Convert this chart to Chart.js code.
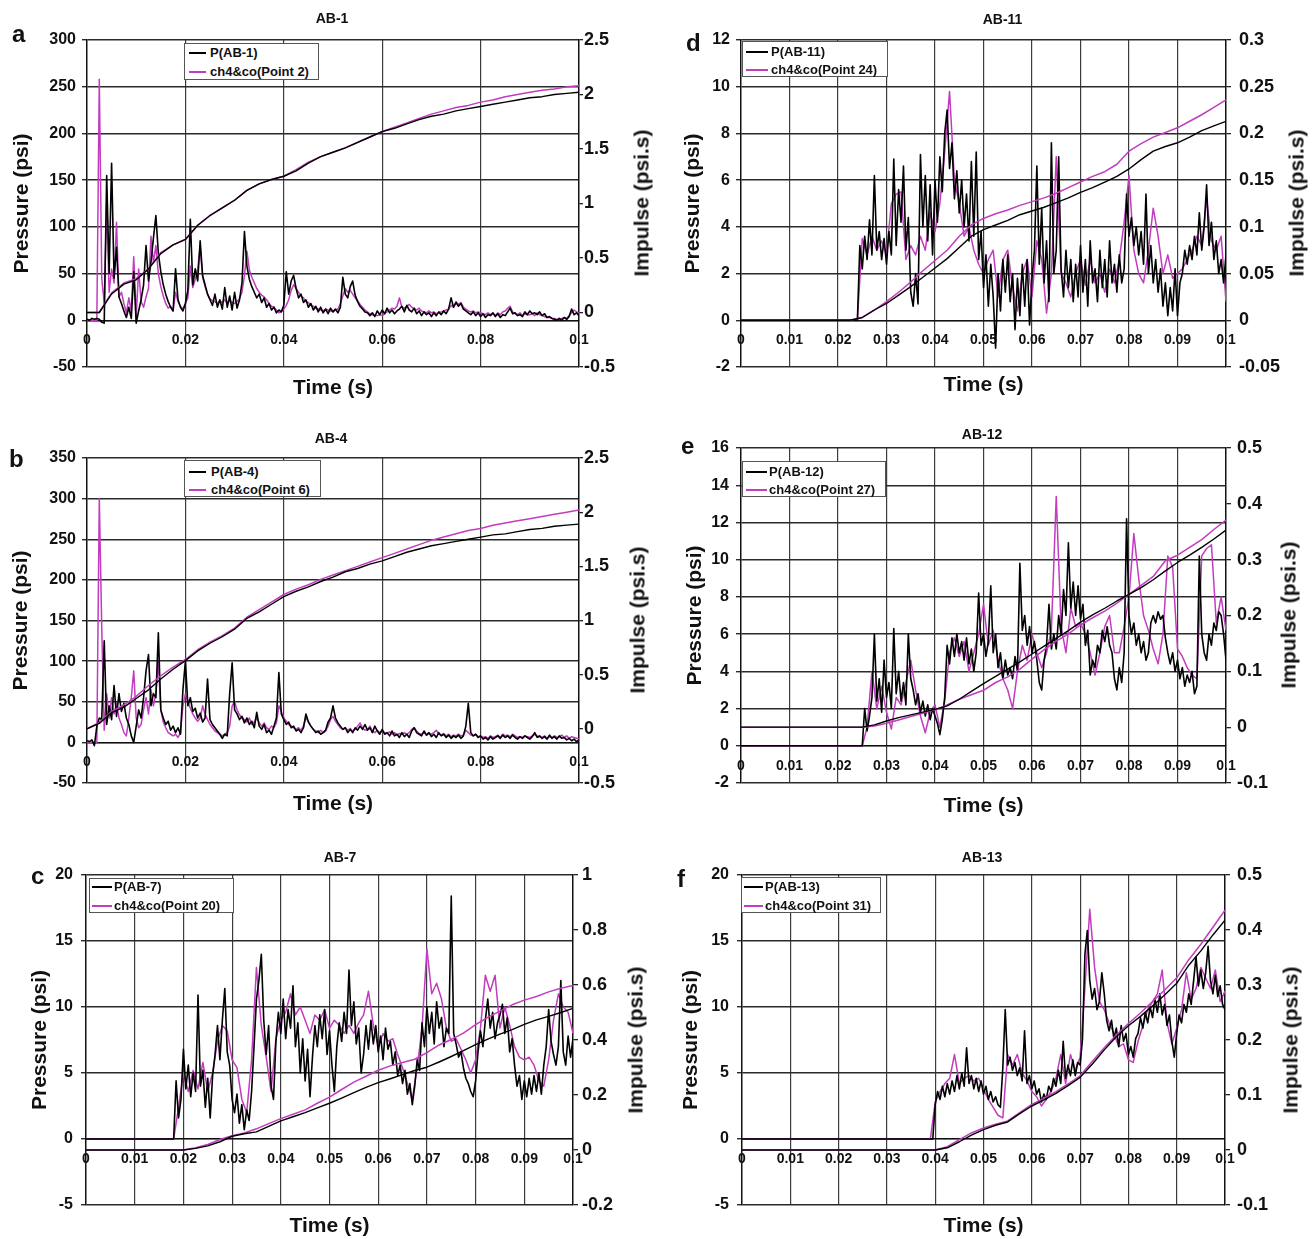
<!DOCTYPE html>
<html>
<head>
<meta charset="utf-8">
<script src="https://cdn.jsdelivr.net/npm/chart.js@4.4.1/dist/chart.umd.min.js"></script>
<style>
  html,body{margin:0;padding:0;background:#fff;}
  body{position:relative;width:1314px;height:1239px;overflow:hidden;font-family:'Liberation Sans',Arial,sans-serif;}
  .lbl{position:absolute;font-weight:bold;color:#111;white-space:nowrap;}
</style>
</head>
<body>
<script>
// ===================== DATA =====================
// x-axis tick values / labels
const X_TICKS_2 = [0, 0.02, 0.04, 0.06, 0.08, 0.1];
const X_LABELS_2 = ['0', '0.02', '0.04', '0.06', '0.08', '0.1'];
const X_TICKS_1 = [0, 0.01, 0.02, 0.03, 0.04, 0.05, 0.06, 0.07, 0.08, 0.09, 0.1];
const X_LABELS_1 = ['0', '0.01', '0.02', '0.03', '0.04', '0.05', '0.06', '0.07', '0.08', '0.09', '0.1'];

// ---------- (a) AB-1 ----------
const A_TITLE = 'AB-1';
const A_NAMES = ['P(AB-1)', 'ch4&co(Point 2)'];
const A_Y_TICKS = [-50, 0, 50, 100, 150, 200, 250, 300];
const A_Y_LABELS = ['-50', '0', '50', '100', '150', '200', '250', '300'];
const A_R_TICKS = [-0.5, 0, 0.5, 1, 1.5, 2, 2.5];
const A_R_LABELS = ['-0.5', '0', '0.5', '1', '1.5', '2', '2.5'];
const A_P_START = 0, A_P_STEP = 0.0005;
const A_P_MEAS = [1,0,2,1,2,1,-2,-3,155,50,
168,45,78,25,18,10,3,14,2,52,
-3,10,22,38,80,42,62,88,112,72,
52,38,28,20,14,10,55,22,14,10,
18,32,108,38,55,42,85,48,38,28,
22,16,28,14,22,12,35,14,26,11,
30,13,22,40,95,58,44,36,30,24,
28,19,24,14,18,11,14,8,11,9,
16,52,28,42,48,34,24,28,19,22,
14,18,11,15,9,14,8,12,7,13,
9,12,8,14,46,28,24,36,42,27,
20,15,12,9,8,5,8,4,10,6,
11,7,13,8,11,7,10,12,15,9,
16,11,9,13,7,10,5,9,6,8,
4,8,5,9,6,10,7,12,24,14,
19,15,18,12,10,8,6,9,5,8,
4,7,3,6,5,8,4,7,3,6,
5,9,13,7,8,5,6,4,9,6,
10,7,8,6,9,5,7,3,4,2,
1,0,2,0,3,1,4,12,6,8,
5];
const A_S_START = 0, A_S_STEP = 0.0005;
const A_P_SIM = [0,0,0,0,0,258,45,18,125,30,
55,40,105,25,30,18,8,24,10,68,
4,55,20,14,25,34,90,62,80,50,
36,26,18,13,15,10,30,20,15,12,
18,24,58,35,44,55,78,46,36,28,
23,21,20,18,21,19,22,18,21,19,
18,20,23,30,48,74,54,46,40,34,
30,27,25,22,18,15,14,11,8,9,
12,16,22,32,38,34,30,26,24,20,
19,16,15,13,12,11,10,12,11,10,
9,11,12,18,26,34,30,32,28,24,
21,17,14,11,9,7,6,5,5,6,
5,7,9,11,13,12,15,24,14,13,
15,17,14,12,11,13,10,9,8,10,
8,9,7,8,9,10,11,12,16,14,
20,17,19,14,12,10,9,10,8,9,
8,7,6,8,6,7,5,8,6,9,
10,13,15,9,7,6,8,5,7,6,
6,7,5,8,6,5,4,3,3,2,
2,1,1,2,3,2,5,8,11,9,
8];
const A_I_START = 0, A_I_STEP = 0.0025;
const A_I_MEAS = [0,0,0.17,0.26,0.30,0.40,0.54,0.62,0.67,0.80,0.89,0.96,1.03,1.12,1.18,1.22,1.25,1.30,1.37,1.43,1.47,1.51,1.56,1.61,1.66,1.69,1.73,1.77,1.80,1.82,1.85,1.87,1.89,1.91,1.93,1.95,1.97,1.98,2.00,2.01,2.02];
const A_I_SIM = [0,0,0.18,0.27,0.31,0.40,0.55,0.62,0.67,0.80,0.89,0.96,1.03,1.12,1.18,1.22,1.25,1.31,1.38,1.43,1.47,1.51,1.56,1.61,1.66,1.70,1.74,1.78,1.82,1.85,1.88,1.90,1.93,1.95,1.98,2.00,2.02,2.04,2.05,2.07,2.08];

// ---------- (b) AB-4 ----------
const B_TITLE = 'AB-4';
const B_NAMES = ['P(AB-4)', 'ch4&co(Point 6)'];
const B_Y_TICKS = [-50, 0, 50, 100, 150, 200, 250, 300, 350];
const B_Y_LABELS = ['-50', '0', '50', '100', '150', '200', '250', '300', '350'];
const B_R_TICKS = [-0.5, 0, 0.5, 1, 1.5, 2, 2.5];
const B_R_LABELS = ['-0.5', '0', '0.5', '1', '1.5', '2', '2.5'];
const B_P_START = 0, B_P_STEP = 0.0005;
const B_P_MEAS = [2,1,3,-4,20,30,28,125,22,45,
28,70,32,60,38,48,30,22,8,0,
20,40,30,55,88,108,45,60,55,135,
40,30,22,26,15,20,12,18,10,65,
100,45,55,38,42,30,36,25,30,78,
28,22,18,14,10,5,10,8,60,98,
40,35,28,32,24,30,22,26,18,37,
20,16,22,12,15,10,20,30,86,35,
28,22,25,18,20,14,16,12,18,35,
25,20,16,12,14,10,12,15,25,30,
45,30,24,20,16,18,12,16,12,18,
15,20,16,22,15,18,12,20,14,10,
16,10,12,8,14,8,10,6,12,7,
10,6,14,18,12,10,8,14,9,12,
7,10,6,12,8,10,6,9,5,8,
6,9,5,8,20,48,12,8,10,6,
8,4,6,3,7,4,6,8,5,9,
6,8,5,9,6,4,7,5,8,6,
4,7,12,6,8,5,7,4,9,5,
7,4,8,5,6,3,5,2,4,1,
3];
const B_S_START = 0, B_S_STEP = 0.0005;
const B_P_SIM = [0,0,0,0,0,300,140,15,60,30,
55,35,48,30,22,12,8,30,55,88,
30,18,22,40,55,35,65,45,60,100,
40,25,18,12,10,8,10,6,12,45,
60,50,42,35,30,26,30,45,35,28,
22,18,14,12,10,8,10,12,20,45,
50,40,34,30,28,25,30,22,25,30,
24,20,24,18,16,20,18,24,45,38,
30,26,22,20,18,16,18,15,20,30,
26,20,16,14,12,15,12,14,20,28,
32,26,22,18,16,18,15,17,14,16,
20,24,18,15,16,20,14,12,15,12,
14,12,11,13,10,12,9,11,10,12,
10,12,16,18,14,11,10,12,9,11,
10,12,15,10,9,11,8,10,7,9,
8,10,8,9,15,12,9,8,10,7,
8,6,7,5,8,6,7,9,6,10,
8,9,7,10,8,6,7,6,8,7,
6,8,10,8,7,6,8,5,7,6,
8,6,7,9,6,8,5,7,6,5,
4];
const B_I_START = 0, B_I_STEP = 0.0025;
const B_I_MEAS = [0,0.05,0.15,0.20,0.28,0.36,0.46,0.55,0.63,0.72,0.79,0.85,0.92,1.02,1.08,1.15,1.22,1.27,1.31,1.36,1.40,1.45,1.48,1.52,1.55,1.59,1.63,1.66,1.69,1.71,1.73,1.75,1.77,1.79,1.80,1.82,1.84,1.85,1.87,1.88,1.89];
const B_I_SIM = [0,0.06,0.16,0.22,0.30,0.40,0.49,0.57,0.64,0.73,0.80,0.86,0.93,1.03,1.10,1.17,1.24,1.29,1.33,1.38,1.42,1.46,1.50,1.54,1.58,1.62,1.66,1.70,1.74,1.77,1.80,1.83,1.85,1.88,1.90,1.92,1.94,1.96,1.98,2.00,2.02];

// ---------- (c) AB-7 ----------
const C_TITLE = 'AB-7';
const C_NAMES = ['P(AB-7)', 'ch4&co(Point 20)'];
const C_Y_TICKS = [-5, 0, 5, 10, 15, 20];
const C_Y_LABELS = ['-5', '0', '5', '10', '15', '20'];
const C_R_TICKS = [-0.2, 0, 0.2, 0.4, 0.6, 0.8, 1];
const C_R_LABELS = ['-0.2', '0', '0.2', '0.4', '0.6', '0.8', '1'];
const C_P_START = 0.018, C_P_STEP = 0.0005;
const C_P_MEAS = [0,4.4,1.6,3.0,6.8,3.8,5.6,3.2,5.0,3.6,
10.9,4.0,5.2,2.4,4.6,1.6,4.8,6.4,8.6,6.0,
9.0,11.4,6.6,5.6,3.0,2.0,3.4,1.2,2.6,0.7,
2.2,1.4,3.6,7.0,10.6,12.0,14.0,9.0,6.4,8.6,
4.0,3.0,7.4,9.6,8.0,10.6,7.6,9.8,8.4,11.6,
7.0,8.8,5.0,7.6,4.4,6.8,3.2,6.2,8.6,7.0,
9.4,7.6,9.8,6.4,8.2,5.6,3.6,7.0,8.8,7.4,
9.6,8.0,12.8,8.6,10.4,7.2,8.4,5.0,6.4,8.6,
6.8,9.0,7.2,8.6,6.6,7.8,6.0,8.4,6.8,7.4,
5.6,6.6,4.8,5.6,4.2,5.2,3.4,4.2,2.6,4.0,
6.0,5.2,8.8,7.0,10.0,8.0,9.6,7.2,10.4,8.4,
9.2,7.0,8.4,8.0,18.4,8.0,7.2,6.2,6.6,5.4,
4.6,4.2,3.6,3.2,4.4,6.6,8.2,7.0,9.0,10.6,
8.4,9.6,7.6,8.8,9.4,10.2,8.0,9.2,6.6,7.6,
5.6,4.0,4.8,3.0,4.4,3.2,4.6,3.4,4.8,3.6,
5.0,3.4,5.6,7.0,9.8,7.4,6.4,5.6,7.0,12.0,
6.6,5.6,7.8,6.2,7.6];
const C_S_START = 0.018, C_S_STEP = 0.001;
const C_P_SIM = [0,2.4,5.0,3.6,5.2,3.8,5.8,3.6,5.0,7.4,
8.6,8.2,6.0,5.4,3.0,2.0,6.0,13.0,8.6,6.2,
3.6,7.6,9.0,9.6,11.0,9.4,10.0,9.0,8.0,9.4,
9.0,9.8,8.4,9.0,8.6,8.0,8.6,8.0,8.8,9.4,
11.2,8.6,7.0,8.0,7.4,7.6,6.4,5.4,4.2,3.0,
5.4,8.4,14.4,11.0,11.8,10.6,8.4,7.4,7.6,6.8,
6.0,5.0,6.0,8.4,12.4,11.2,12.4,8.4,10.0,8.6,
7.0,6.2,6.0,6.2,5.6,4.4,4.0,6.0,9.0,11.0,
10.0,9.6,8.0];
const C_I_START = 0.02, C_I_STEP = 0.0025;
const C_I_MEAS = [0,0.006,0.015,0.030,0.050,0.059,0.066,0.086,0.106,0.121,0.136,0.153,0.170,0.189,0.209,0.228,0.245,0.259,0.274,0.289,0.301,0.320,0.340,0.361,0.383,0.403,0.421,0.438,0.457,0.473,0.486,0.500,0.515];
const C_I_SIM = [0,0.008,0.020,0.038,0.052,0.062,0.077,0.096,0.114,0.130,0.146,0.170,0.192,0.220,0.247,0.268,0.290,0.306,0.318,0.330,0.354,0.382,0.402,0.425,0.456,0.482,0.505,0.528,0.545,0.558,0.575,0.588,0.598];

// ---------- (d) AB-11 ----------
const D_TITLE = 'AB-11';
const D_NAMES = ['P(AB-11)', 'ch4&co(Point 24)'];
const D_Y_TICKS = [-2, 0, 2, 4, 6, 8, 10, 12];
const D_Y_LABELS = ['-2', '0', '2', '4', '6', '8', '10', '12'];
const D_R_TICKS = [-0.05, 0, 0.05, 0.1, 0.15, 0.2, 0.25, 0.3];
const D_R_LABELS = ['-0.05', '0', '0.05', '0.1', '0.15', '0.2', '0.25', '0.3'];
const D_P_START = 0.024, D_P_STEP = 0.0005;
const D_P_MEAS = [0.0,3.2,2.2,3.6,2.6,4.3,2.8,6.2,3.0,3.8,
2.6,3.5,2.4,3.8,2.8,6.9,3.2,5.6,4.2,6.6,
3.0,4.4,1.2,0.6,2.0,0.7,7.1,4.0,6.2,3.4,
5.8,2.8,6.0,4.2,7.0,5.5,8.0,9.0,6.5,7.6,
5.2,6.4,4.6,6.0,4.0,5.4,3.4,6.8,3.6,7.2,
2.6,3.8,1.4,2.8,0.6,2.4,1.0,-1.2,2.0,0.4,
2.6,1.2,2.8,0.8,2.0,-0.4,1.8,0.2,2.4,0.6,
2.6,-0.2,1.8,3.0,6.6,2.4,4.8,1.6,3.4,0.8,
7.6,2.0,3.0,7.0,2.2,1.0,3.0,1.4,2.6,0.8,
2.4,1.0,3.2,1.2,2.6,0.6,3.4,1.6,2.2,0.8,
3.0,1.4,2.6,1.0,3.4,1.6,2.4,1.2,2.8,1.6,
2.2,5.4,3.6,4.4,3.2,4.0,2.8,3.8,2.4,5.4,
2.0,3.2,1.6,2.6,1.2,2.2,0.6,1.6,0.2,1.4,
0.4,2.2,0.2,1.6,2.0,3.0,2.4,3.2,2.6,3.6,
2.8,4.6,3.0,4.0,5.8,3.2,4.2,2.6,3.4,2.0,
2.6,1.6,2.8];
const D_S_START = 0.024, D_S_STEP = 0.001;
const D_P_SIM = [0,3.5,2.8,3.6,3.0,3.4,2.8,5.0,5.4,5.5,
2.6,3.2,2.8,3.6,3.0,4.6,3.8,5.0,7.2,9.8,
6.0,5.0,3.6,4.0,3.0,2.4,2.0,2.6,3.0,1.0,
2.6,3.0,1.4,0.4,2.0,2.6,1.0,3.4,2.6,0.3,
2.0,7.0,2.0,1.6,1.0,2.0,2.6,1.5,2.6,1.6,
2.0,1.2,2.2,1.6,2.6,4.2,6.2,3.0,2.0,1.6,
3.0,4.8,3.6,2.0,2.8,1.8,2.0,2.2,2.6,3.0,
3.6,3.2,5.2,3.4,3.0,3.6,0.8];
const D_I_START = 0.02, D_I_STEP = 0.0025;
const D_I_MEAS = [0,0,0.003,0.011,0.018,0.027,0.036,0.046,0.056,0.066,0.078,0.090,0.097,0.102,0.107,0.113,0.117,0.121,0.126,0.131,0.137,0.142,0.148,0.154,0.162,0.172,0.181,0.186,0.190,0.196,0.203,0.208,0.213];
const D_I_SIM = [0,0,0.003,0.011,0.020,0.030,0.041,0.053,0.064,0.075,0.090,0.102,0.109,0.114,0.118,0.123,0.127,0.131,0.136,0.142,0.148,0.154,0.159,0.167,0.181,0.189,0.196,0.201,0.206,0.213,0.220,0.228,0.236];

// ---------- (e) AB-12 ----------
const E_TITLE = 'AB-12';
const E_NAMES = ['P(AB-12)', 'ch4&co(Point 27)'];
const E_Y_TICKS = [-2, 0, 2, 4, 6, 8, 10, 12, 14, 16];
const E_Y_LABELS = ['-2', '0', '2', '4', '6', '8', '10', '12', '14', '16'];
const E_R_TICKS = [-0.1, 0, 0.1, 0.2, 0.3, 0.4, 0.5];
const E_R_LABELS = ['-0.1', '0', '0.1', '0.2', '0.3', '0.4', '0.5'];
const E_P_START = 0.025, E_P_STEP = 0.0005;
const E_P_MEAS = [0.0,2.0,0.8,1.6,2.6,6.0,2.4,3.6,1.8,4.6,
2.6,3.4,2.0,6.3,2.8,4.0,2.4,3.4,2.2,6.0,
3.6,3.0,2.2,2.8,1.8,2.4,1.6,2.2,1.4,2.0,
1.6,1.2,0.6,1.4,2.6,5.4,4.4,5.8,4.8,6.0,
5.0,5.6,4.6,5.8,4.4,5.2,4.0,5.0,8.2,5.4,
6.0,4.8,5.6,8.6,5.0,6.0,4.2,5.0,3.6,4.6,
3.8,4.2,3.6,4.8,4.0,9.8,6.2,7.0,5.4,6.4,
5.0,5.6,4.6,3.4,3.0,4.6,5.4,7.6,5.2,6.0,
5.2,7.0,6.0,8.4,7.0,10.9,7.4,8.8,7.0,8.6,
6.8,7.6,5.4,6.2,3.8,4.6,4.2,5.4,5.0,6.2,
5.6,6.4,5.4,5.0,3.6,3.0,4.2,3.4,5.0,12.2,
7.0,6.0,6.6,5.4,6.0,5.0,5.6,4.6,5.0,6.6,
7.0,6.6,7.2,6.8,7.0,5.8,5.0,4.4,5.0,4.0,
4.6,3.6,4.2,3.2,3.8,3.4,4.0,2.8,3.2,10.2,
6.0,5.0,4.6,6.0,5.4,6.6,6.2,7.2,7.0,6.0,
4.6];
const E_S_START = 0.025, E_S_STEP = 0.001;
const E_P_SIM = [0,1.0,4.0,2.0,3.2,1.8,0.9,2.6,2.2,3.4,
4.6,3.0,1.6,0.7,1.8,2.2,1.0,2.4,5.0,5.8,
4.8,5.6,4.0,5.0,6.0,7.6,5.4,6.2,4.6,3.6,
3.0,2.0,4.0,5.4,4.6,6.0,5.0,4.2,5.0,6.2,
13.4,6.4,5.0,7.4,6.4,6.6,6.0,5.0,3.8,5.0,
6.4,7.0,5.0,5.0,6.4,8.0,11.4,9.0,7.0,6.2,
5.2,4.4,6.0,10.2,9.6,5.2,4.8,4.2,3.8,3.6,
10.2,10.6,10.8,6.6,8.0,6.2];
const E_I_START = 0.025, E_I_STEP = 0.0025;
const E_I_MEAS = [0,0.004,0.011,0.017,0.022,0.027,0.032,0.038,0.050,0.064,0.078,0.091,0.104,0.117,0.131,0.145,0.159,0.173,0.188,0.201,0.213,0.226,0.238,0.250,0.264,0.280,0.295,0.308,0.322,0.337,0.353];
const E_I_SIM = [0,0.002,0.007,0.013,0.019,0.025,0.031,0.040,0.050,0.058,0.066,0.080,0.090,0.104,0.122,0.139,0.154,0.167,0.183,0.196,0.208,0.222,0.238,0.254,0.270,0.298,0.308,0.322,0.336,0.354,0.371];

// ---------- (f) AB-13 ----------
const F_TITLE = 'AB-13';
const F_NAMES = ['P(AB-13)', 'ch4&co(Point 31)'];
const F_Y_TICKS = [-5, 0, 5, 10, 15, 20];
const F_Y_LABELS = ['-5', '0', '5', '10', '15', '20'];
const F_R_TICKS = [-0.1, 0, 0.1, 0.2, 0.3, 0.4, 0.5];
const F_R_LABELS = ['-0.1', '0', '0.1', '0.2', '0.3', '0.4', '0.5'];
const F_P_START = 0.0395, F_P_STEP = 0.0005;
const F_P_MEAS = [0,2.6,3.6,3.0,4.0,3.2,4.2,3.4,4.4,3.6,
4.8,3.8,5.0,4.0,6.9,4.2,4.8,3.8,4.6,3.6,
4.4,3.4,4.0,3.0,3.6,2.8,3.2,2.6,2.4,5.4,
9.8,5.6,6.2,5.2,5.8,4.8,5.4,4.4,8.2,4.2,
4.8,3.8,4.4,3.4,3.8,2.8,3.4,3.0,4.0,3.6,
4.6,4.0,5.2,4.2,7.4,4.6,5.6,4.8,6.0,4.8,
5.8,5.6,7.6,14.0,15.8,12.0,10.6,11.4,9.8,10.4,
12.6,11.0,9.0,8.2,9.0,7.6,8.4,7.0,8.6,7.4,
8.0,6.4,7.0,6.2,7.6,8.0,9.2,8.4,9.6,8.8,
10.0,9.2,10.6,9.6,11.0,9.4,10.2,8.6,9.4,7.4,
6.2,8.0,9.4,8.8,10.2,9.6,11.0,10.2,12.0,13.8,
11.6,12.8,11.4,12.6,14.6,12.0,11.0,12.4,10.8,11.6,
10.2,9.8];
const F_S_START = 0.039, F_S_STEP = 0.001;
const F_P_SIM = [0,2.8,3.6,4.2,4.6,6.4,4.2,4.6,4.8,4.4,
4.6,3.8,3.0,2.4,1.8,1.6,6.4,5.6,6.4,5.0,
4.4,3.6,3.2,2.5,3.0,3.6,4.6,6.4,4.2,6.4,
5.2,6.2,11.4,17.4,13.0,10.4,9.8,8.8,8.0,7.0,
7.2,6.0,5.8,7.4,8.6,9.8,10.4,11.0,12.8,8.8,
7.2,8.4,9.8,12.6,10.6,11.4,13.0,12.2,11.4,12.8,
10.4,11.2];
const F_I_START = 0.04, F_I_STEP = 0.0025;
const F_I_MEAS = [0,0.004,0.015,0.027,0.037,0.045,0.051,0.066,0.080,0.091,0.103,0.117,0.132,0.156,0.182,0.206,0.226,0.243,0.262,0.282,0.303,0.336,0.362,0.391,0.418];
const F_I_SIM = [0,0.006,0.019,0.031,0.040,0.047,0.053,0.068,0.083,0.094,0.106,0.120,0.135,0.161,0.186,0.209,0.230,0.249,0.270,0.291,0.313,0.346,0.374,0.405,0.436];

// ===================== STYLE / LAYOUT =====================
const FONT = "'Liberation Sans', Arial, sans-serif";
const INK = '#111';
const MAGENTA = '#c23cc0';
const AXIS_TITLE_P = 'Pressure (psi)';
const AXIS_TITLE_I = 'Impulse (psi.s)';
const AXIS_TITLE_T = 'Time (s)';

const PANELS = [
  { letter:'a', title:A_TITLE, names:A_NAMES, yMin:-50, yMax:300, yT:A_Y_TICKS, yL:A_Y_LABELS, rMin:-0.5, rMax:2.5, rT:A_R_TICKS, rL:A_R_LABELS, xT:X_TICKS_2, xL:X_LABELS_2,
    meas:[A_P_START,A_P_STEP,A_P_MEAS], sim:[A_S_START,A_S_STEP,A_P_SIM], imeas:[A_I_START,A_I_STEP,A_I_MEAS], isim:[A_I_START,A_I_STEP,A_I_SIM],
    g:{cv:[0,0,657,410], pl:7, pr:0, yW:80, rW:78, x2H:43, tPad:[12,14], yTP:13, xTP:11, yLabPad:6, rTick:4, rPad:1,
       letter:[12,22], rTitle:[641,203], leg:{box:[184,43,135,37], rows:[53,72], line:[189,206], text:210}} },
  { letter:'b', title:B_TITLE, names:B_NAMES, yMin:-50, yMax:350, yT:B_Y_TICKS, yL:B_Y_LABELS, rMin:-0.5, rMax:2.5, rT:B_R_TICKS, rL:B_R_LABELS, xT:X_TICKS_2, xL:X_LABELS_2,
    meas:[B_P_START,B_P_STEP,B_P_MEAS], sim:[B_S_START,B_S_STEP,B_P_SIM], imeas:[B_I_START,B_I_STEP,B_I_MEAS], isim:[B_I_START,B_I_STEP,B_I_SIM],
    g:{cv:[0,410,657,420], pl:5, pr:0, yW:82, rW:78, x2H:47, tPad:[22,12], yTP:14, xTP:15, yLabPad:6, rTick:4, rPad:1,
       letter:[9,447], rTitle:[637,620], leg:{box:[184,460,137,37], rows:[472,490], line:[189,206], text:211}} },
  { letter:'c', title:C_TITLE, names:C_NAMES, yMin:-5, yMax:20, yT:C_Y_TICKS, yL:C_Y_LABELS, rMin:-0.2, rMax:1, rT:C_R_TICKS, rL:C_R_LABELS, xT:X_TICKS_1, xL:X_LABELS_1,
    meas:[C_P_START,C_P_STEP,C_P_MEAS], sim:[C_S_START,C_S_STEP,C_P_SIM], imeas:[C_I_START,C_I_STEP,C_I_MEAS], isim:[C_I_START,C_I_STEP,C_I_SIM],
    g:{cv:[0,830,657,409], pl:23, pr:0, yW:63, rW:84, x2H:34, tPad:[21,10], yTP:15, xTP:2, yLabPad:8, rTick:5, rPad:4,
       letter:[31,864], rTitle:[635,1040], leg:{box:[89,878,145,35], rows:[887,906], line:[92,112], text:114}} },
  { letter:'d', title:D_TITLE, names:D_NAMES, yMin:-2, yMax:12, yT:D_Y_TICKS, yL:D_Y_LABELS, rMin:-0.05, rMax:0.3, rT:D_R_TICKS, rL:D_R_LABELS, xT:X_TICKS_1, xL:X_LABELS_1,
    meas:[D_P_START,D_P_STEP,D_P_MEAS], sim:[D_S_START,D_S_STEP,D_P_SIM], imeas:[D_I_START,D_I_STEP,D_I_MEAS], isim:[D_I_START,D_I_STEP,D_I_SIM],
    g:{cv:[665,0,649,410], pl:26, pr:0, yW:50, rW:88, x2H:43, tPad:[13,13], yTP:0, xTP:14, yLabPad:6, rTick:5, rPad:8,
       letter:[686,31], rTitle:[1296,203], leg:{box:[742,41,146,36], rows:[52,70], line:[746,768], text:771}} },
  { letter:'e', title:E_TITLE, names:E_NAMES, yMin:-2, yMax:16, yT:E_Y_TICKS, yL:E_Y_LABELS, rMin:-0.1, rMax:0.5, rT:E_R_TICKS, rL:E_R_LABELS, xT:X_TICKS_1, xL:X_LABELS_1,
    meas:[E_P_START,E_P_STEP,E_P_MEAS], sim:[E_S_START,E_S_STEP,E_P_SIM], imeas:[E_I_START,E_I_STEP,E_I_MEAS], isim:[E_I_START,E_I_STEP,E_I_SIM],
    g:{cv:[665,410,649,420], pl:0, pr:15, yW:76, rW:73, x2H:47, tPad:[18,6], yTP:28, xTP:13, yLabPad:7, rTick:5, rPad:6,
       letter:[681,434], rTitle:[1288,615], leg:{box:[742,461,144,36], rows:[472,490], line:[746,767], text:769}} },
  { letter:'f', title:F_TITLE, names:F_NAMES, yMin:-5, yMax:20, yT:F_Y_TICKS, yL:F_Y_LABELS, rMin:-0.1, rMax:0.5, rT:F_R_TICKS, rL:F_R_LABELS, xT:X_TICKS_1, xL:X_LABELS_1,
    meas:[F_P_START,F_P_STEP,F_P_MEAS], sim:[F_S_START,F_S_STEP,F_P_SIM], imeas:[F_I_START,F_I_STEP,F_I_MEAS], isim:[F_I_START,F_I_STEP,F_I_SIM],
    g:{cv:[665,830,649,409], pl:0, pr:15, yW:77, rW:74, x2H:34, tPad:[21,10], yTP:24, xTP:2, yLabPad:8, rTick:5, rPad:7,
       letter:[677,867], rTitle:[1290,1040], leg:{box:[741,877,140,36], rows:[887,906], line:[744,763], text:765}} }
];

// ===================== BUILD =====================
Chart.defaults.font.family = FONT;
Chart.defaults.color = INK;

function toPoints(spec) {
  const [start, step, vals] = spec;
  const out = [];
  if (start > 0) out.push({x: 0, y: vals[0]});
  for (let i = 0; i < vals.length; i++) {
    out.push({x: Math.round((start + i * step) * 1e7) / 1e7, y: vals[i]});
  }
  return out;
}

function fixedTicks(vals) {
  return (scale) => { scale.ticks = vals.map(v => ({value: v})); };
}

function addDiv(text, css) {
  const d = document.createElement('div');
  d.className = 'lbl';
  d.textContent = text;
  d.style.cssText += css;
  document.body.appendChild(d);
  return d;
}

function addLegend(names, L) {
  const box = document.createElement('div');
  const [bx, by, bw, bh] = L.box;
  box.style.cssText = `position:absolute;left:${bx}px;top:${by}px;width:${bw}px;height:${bh}px;background:#fff;border:1px solid #555;box-sizing:border-box;`;
  const colors = ['#000', MAGENTA];
  names.forEach((n, i) => {
    const ln = document.createElement('div');
    ln.style.cssText = `position:absolute;left:${L.line[0]-bx-1}px;top:${L.rows[i]-by-2}px;width:${L.line[1]-L.line[0]}px;height:2px;background:${colors[i]};`;
    box.appendChild(ln);
    const t = document.createElement('div');
    t.textContent = n;
    t.style.cssText = `position:absolute;left:${L.text-bx-1}px;top:${L.rows[i]-by-8}px;font:bold 13px ${FONT};line-height:14px;color:${INK};white-space:nowrap;`;
    box.appendChild(t);
  });
  document.body.appendChild(box);
}

function buildPanel(p) {
  const g = p.g;
  const cv = document.createElement('canvas');
  cv.width = g.cv[2]; cv.height = g.cv[3];
  cv.style.cssText = `position:absolute;left:${g.cv[0]}px;top:${g.cv[1]}px;width:${g.cv[2]}px;height:${g.cv[3]}px;`;
  document.body.appendChild(cv);

  const common = {pointRadius: 0, pointHoverRadius: 0, tension: 0, fill: false, borderJoinStyle: 'round', xAxisID: 'x'};
  new Chart(cv.getContext('2d'), {
    type: 'line',
    data: {
      datasets: [
        Object.assign({label: p.names[0], data: toPoints(p.imeas), borderColor: '#000', borderWidth: 1.4, yAxisID: 'y1', order: 0}, common),
        Object.assign({label: p.names[1], data: toPoints(p.isim), borderColor: MAGENTA, borderWidth: 1.5, yAxisID: 'y1', order: 1}, common),
        Object.assign({label: p.names[0], data: toPoints(p.meas), borderColor: '#000', borderWidth: 1.6, yAxisID: 'y', order: 2}, common),
        Object.assign({label: p.names[1], data: toPoints(p.sim), borderColor: MAGENTA, borderWidth: 1.5, yAxisID: 'y', order: 3}, common)
      ]
    },
    options: {
      responsive: false, animation: false, devicePixelRatio: 1,
      events: [],
      layout: {padding: {left: g.pl, right: g.pr, top: 0, bottom: 0}},
      plugins: {
        legend: {display: false},
        tooltip: {enabled: false},
        title: {display: true, text: p.title, color: INK,
                font: {family: FONT, size: 14, weight: 'bold', lineHeight: 1},
                padding: {top: g.tPad[0], bottom: g.tPad[1]}}
      },
      scales: {
        x: {
          type: 'linear', min: 0, max: 0.1, position: {y: 0},
          afterBuildTicks: fixedTicks(p.xT),
          ticks: {callback: (v, i) => p.xL[i], autoSkip: false, maxRotation: 0, padding: 13, color: INK,
                  font: {family: FONT, size: 14, weight: 'bold', lineHeight: 1}},
          grid: {color: '#3c3c3c', lineWidth: 1.2, drawTicks: false},
          border: {display: true, color: '#111', width: 1.3}
        },
        x2: {
          type: 'linear', min: 0, max: 0.1, position: 'bottom',
          grid: {display: false, drawTicks: false}, border: {display: false},
          ticks: {display: false},
          title: {display: true, text: AXIS_TITLE_T, color: INK,
                  font: {family: FONT, size: 21, weight: 'bold', lineHeight: 1},
                  padding: {top: 0, bottom: g.xTP}},
          afterFit: (s) => { s.height = g.x2H; }
        },
        y: {
          type: 'linear', position: 'left', min: p.yMin, max: p.yMax,
          afterBuildTicks: fixedTicks(p.yT),
          ticks: {callback: (v, i) => p.yL[i], padding: g.yLabPad, color: INK, autoSkip: false,
                  font: {family: FONT, size: 16, weight: 'bold'}},
          grid: {color: '#2a2a2a', lineWidth: 1.4, tickLength: 5, tickColor: '#2a2a2a'},
          border: {display: true, color: '#111', width: 1.4},
          title: {display: true, text: AXIS_TITLE_P, color: INK,
                  font: {family: FONT, size: 21, weight: 'bold', lineHeight: 0.2},
                  padding: {top: g.yTP, bottom: 0}},
          afterFit: (s) => { s.width = g.yW; }
        },
        y1: {
          type: 'linear', position: 'right', min: p.rMin, max: p.rMax,
          afterBuildTicks: fixedTicks(p.rT),
          ticks: {callback: (v, i) => p.rL[i], padding: g.rPad, color: INK, autoSkip: false,
                  font: {family: FONT, size: 18, weight: 'bold'}},
          grid: {drawOnChartArea: false, tickLength: g.rTick, color: '#222', lineWidth: 1.3},
          border: {display: true, color: '#111', width: 1.4},
          afterFit: (s) => { s.width = g.rW; }
        }
      }
    }
  });

  // overlays: panel letter, right-axis title (reads bottom-to-top), legend
  addDiv(p.letter, `left:${g.letter[0]}px;top:${g.letter[1]}px;font-size:24px;line-height:24px;`);
  addDiv(AXIS_TITLE_I, `left:${g.rTitle[0]}px;top:${g.rTitle[1]}px;font-size:21px;line-height:21px;transform:translate(-50%,-50%) rotate(-90deg);`);
  addLegend(p.names, g.leg);
}

PANELS.forEach(buildPanel);
</script>
</body>
</html>
